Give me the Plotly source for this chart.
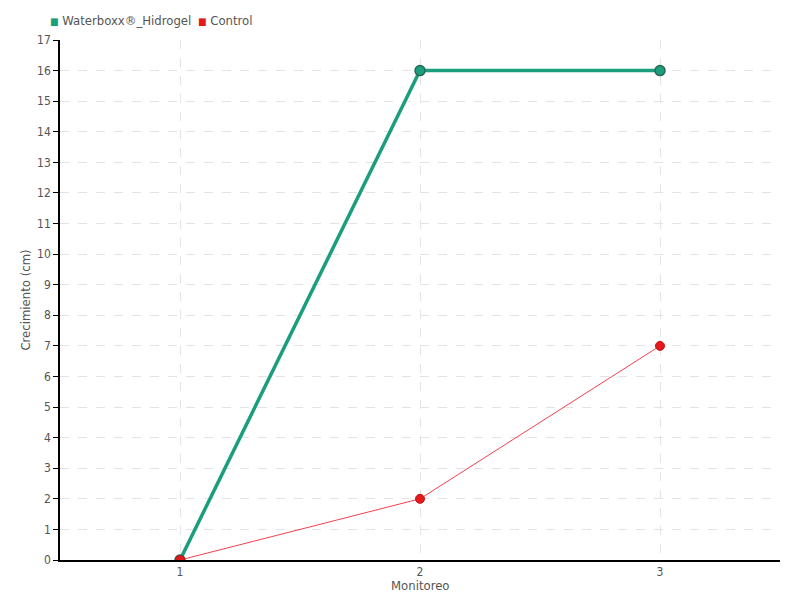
import plotly.graph_objects as go

monitoreo = [1, 2, 3]
waterboxx = [0, 16, 16]
control = [0, 2, 7]
y_ticks = list(range(0, 18))
series_names = ["Waterboxx®_Hidrogel", "Control"]

FONT = "Liberation Sans Narrow, DejaVu Sans Condensed, Roboto, sans-serif"
GREEN = "#1b9e7e"
RED = "#e41a1c"

# page has 8px body margin: compensate so the plot area sits at x 60..780, y 40..560
OFF = 8
L, R, T, B = 60 - OFF, 20, 40 - OFF, 40
W, H = 800 - OFF, 600 - OFF
PW, PH = W - L - R, H - T - B

fig = go.Figure()
fig.add_trace(go.Scatter(
    x=monitoreo, y=waterboxx, name=series_names[0], mode="lines+markers", showlegend=False,
    line=dict(color=GREEN, width=3.5),
    marker=dict(color=GREEN, size=10, symbol="circle", line=dict(color="#2a6a55", width=1.5)),
))
fig.add_trace(go.Scatter(
    x=monitoreo, y=control, name=series_names[1], mode="lines+markers", showlegend=False,
    line=dict(color="#f5404f", width=1),
    marker=dict(color=RED, size=9, symbol="circle", line=dict(color="#c81018", width=1)),
))

def px_x(page_x):
    return (page_x - 60) / PW

legend_ann = [
    dict(text=f"<span style='color:{GREEN};font-size:10px'>■</span> {series_names[0]}",
         x=px_x(48), y=1 + 19 / PH),
    dict(text=f"<span style='color:{RED};font-size:10px'>■</span> {series_names[1]}",
         x=px_x(196), y=1 + 19 / PH),
]
annotations = [dict(a, xref="paper", yref="paper", xanchor="left", yanchor="middle",
                    showarrow=False, font=dict(size=13, color="#555555")) for a in legend_ann]
annotations.append(dict(text="Monitoreo", xref="paper", yref="paper", x=0.5, y=-25 / PH,
                        xanchor="center", yanchor="middle", showarrow=False,
                        font=dict(size=13, color="#555555")))

fig.update_layout(
    width=W, height=H,
    paper_bgcolor="white", plot_bgcolor="white",
    margin=dict(l=L, r=R, t=T, b=B, autoexpand=False),
    font=dict(family=FONT, size=13, color="#555555"),
    showlegend=False,
    xaxis=dict(
        range=[0.5, 3.5], tickmode="array", tickvals=monitoreo, ticktext=[str(v) for v in monitoreo],
        showline=True, linecolor="black", linewidth=1.5, ticks="",
        showgrid=True, gridcolor="#e3e3e3", griddash="dash", gridwidth=1, zeroline=False,
        automargin=False, tickfont=dict(size=12),
    ),
    yaxis=dict(
        range=[0, 17], tickmode="array", tickvals=y_ticks,
        showline=True, linecolor="black", linewidth=1.5, ticks="outside", ticklen=5, tickcolor="black",
        showgrid=True, gridcolor="#e3e3e3", griddash="dash", gridwidth=1, zeroline=False,
        automargin=False,
        title=dict(text="Crecimiento (cm)", standoff=4, font=dict(size=13)),
        tickfont=dict(size=12),
    ),
    annotations=annotations,
)

fig.write_html("out.html")
